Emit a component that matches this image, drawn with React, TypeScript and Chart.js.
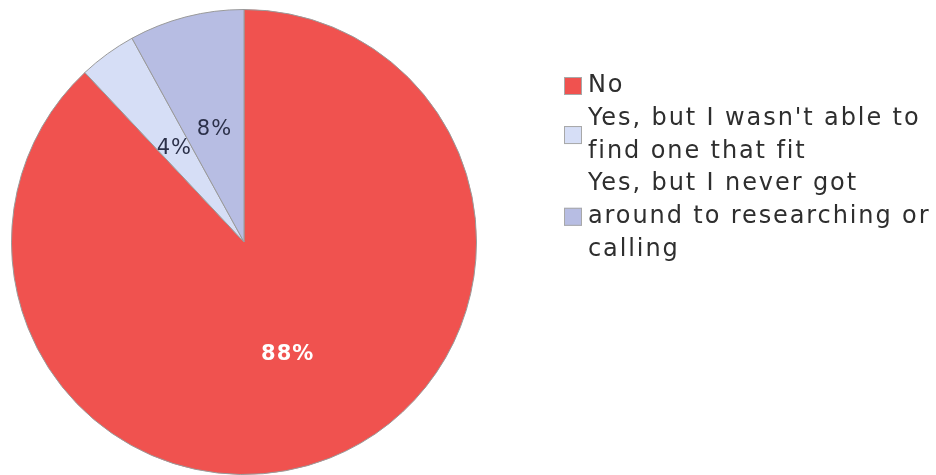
import React, { useEffect, useRef } from "react";
import { Chart, registerables } from "chart.js";

Chart.register(...registerables);

const categories = [
  "No",
  "Yes, but I wasn't able to find one that fit",
  "Yes, but I never got around to researching or calling",
];
const legendLines = [
  ["No"],
  ["Yes, but I wasn't able to", "find one that fit"],
  ["Yes, but I never got", "around to researching or", "calling"],
];
const values = [88, 4, 8];
const colors = ["#F0524F", "#D6DEF6", "#B7BDE3"];
const labelColors = ["#FFFFFF", "#2B3049", "#2B3049"];

const FONT = "'DejaVu Sans', sans-serif";

const labelsPlugin = {
  id: "sliceLabels",
  afterDatasetsDraw(chart: any) {
    const ctx = chart.ctx;
    const meta = chart.getDatasetMeta(0);
    const total = values.reduce((a, b) => a + b, 0);
    meta.data.forEach((arc: any, i: number) => {
      const { x, y, startAngle, endAngle, outerRadius } = arc.getProps(
        ["x", "y", "startAngle", "endAngle", "outerRadius"],
        true
      );
      const mid = (startAngle + endAngle) / 2;
      const r = outerRadius * 0.51;
      ctx.save();
      ctx.fillStyle = labelColors[i];
      ctx.font = (i === 0 ? "bold " : "") + "21px " + FONT;
      (ctx as any).letterSpacing = "1px";
      ctx.textAlign = "center";
      ctx.textBaseline = "middle";
      ctx.fillText(
        Math.round((values[i] / total) * 100) + "%",
        x + Math.cos(mid) * r,
        y + Math.sin(mid) * r + 2
      );
      ctx.restore();
    });
  },
};

const legendPlugin = {
  id: "customLegend",
  afterDraw(chart: any) {
    const ctx = chart.ctx;
    const lineH = 32.7;
    const boxX = 564;
    const textX = 588;
    let y = 86;
    ctx.save();
    ctx.font = "24px " + FONT;
    (ctx as any).letterSpacing = "1.9px";
    ctx.textBaseline = "middle";
    ctx.textAlign = "left";
    legendLines.forEach((lines, i) => {
      const centerY = y + ((lines.length - 1) * lineH) / 2;
      ctx.fillStyle = colors[i];
      ctx.fillRect(boxX, centerY - 9, 18, 18);
      ctx.strokeStyle = "#A8A8A8";
      ctx.lineWidth = 1;
      ctx.strokeRect(boxX + 0.5, centerY - 8.5, 17, 17);
      ctx.fillStyle = "#2E2E2E";
      lines.forEach((t, j) => ctx.fillText(t, textX, y + j * lineH));
      y += lines.length * lineH;
    });
    ctx.restore();
  },
};

export default function App() {
  const ref = useRef<HTMLCanvasElement>(null);
  useEffect(() => {
    if (!ref.current) return;
    const chart = new Chart(ref.current, {
      type: "pie",
      data: {
        labels: categories,
        datasets: [
          {
            data: values,
            backgroundColor: colors,
            borderColor: "#9A9A9A",
            borderWidth: 1,
          },
        ],
      },
      options: {
        animation: false,
        responsive: false,
        layout: { padding: { left: 11, right: 459, top: 9, bottom: 0 } },
        plugins: {
          legend: { display: false },
          tooltip: { enabled: false },
        },
      },
      plugins: [labelsPlugin, legendPlugin],
    });
    return () => chart.destroy();
  }, []);
  return (
    <div style={{ position: "fixed", left: 0, top: 0, width: 936, height: 475, background: "#fff" }}>
      <canvas ref={ref} width={936} height={475} style={{ width: 936, height: 475, display: "block" }} />
    </div>
  );
}
